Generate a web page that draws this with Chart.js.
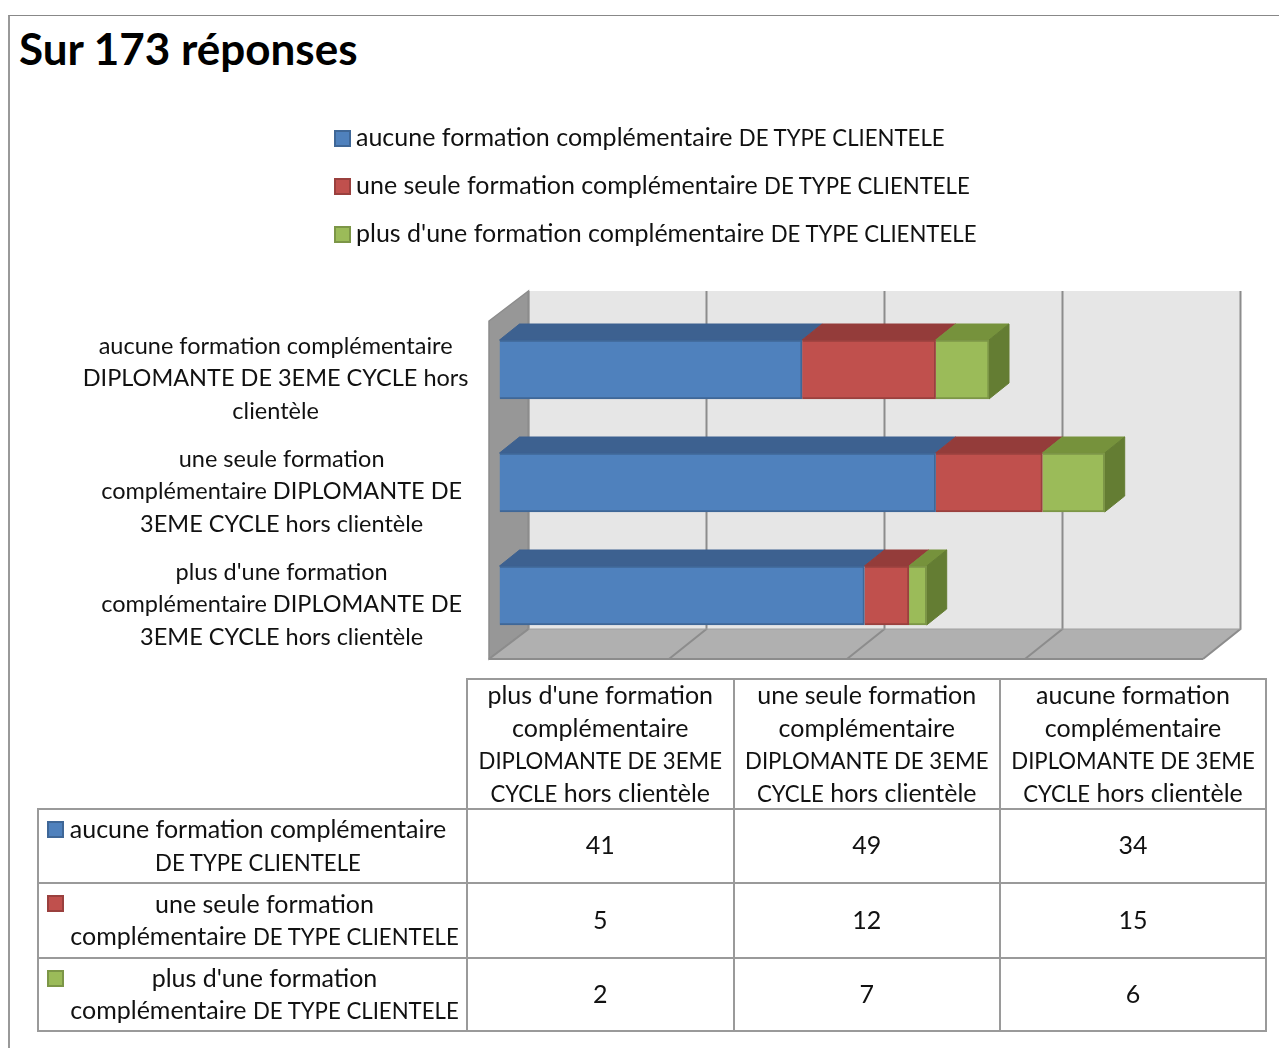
<!DOCTYPE html>
<html lang="fr"><head><meta charset="utf-8">
<script src="https://cdn.jsdelivr.net/npm/chart.js@4"></script>
<style>
html,body{margin:0;padding:0;background:#fff;width:1279px;height:1048px;overflow:hidden;font-family:Lato,sans-serif;color:#111}
#frame{position:absolute;left:8px;top:15px;width:1271px;height:1033px;border-top:1px solid #888;border-left:2px solid #999;box-sizing:border-box}
#title{position:absolute;left:19px;top:21px;font-size:44px;font-weight:700;line-height:54px;color:#000}
canvas{position:absolute;left:0;top:0}
.leg{position:absolute;left:334px;height:32px;line-height:32px;font-size:25px;white-space:nowrap}
.sw{position:absolute;box-sizing:border-box;width:17px;height:17px;border:2px solid}
.leg span.t{position:absolute;left:22px;top:0}
.cap{font-size:22.2px;line-height:0}
table{position:absolute;left:37px;top:678px;border-collapse:collapse;table-layout:fixed;width:1228px;font-size:25px;line-height:32.5px;white-space:nowrap}
td{border:2px solid #9a9a9a;text-align:center;padding:0;position:relative;vertical-align:middle}
td.blank{border:none;border-right:2px solid #9a9a9a;border-bottom:2px solid #9a9a9a}
td.s{padding-left:30px;padding-right:6px}
td.s.first{padding-right:19px}
td.s .sw{left:8px;top:11px}
td .h{margin-bottom:-2px;position:relative;top:-2px}
td .b{margin-top:-3px}
</style></head><body>
<div id="frame"></div>
<div id="title">Sur 173 réponses</div>
<canvas id="c" width="1279" height="1048"></canvas>
<div id="legend"></div>
<table id="tbl"></table>
<script>
const categories = [
  ["aucune formation complémentaire","DIPLOMANTE DE 3EME CYCLE hors","clientèle"],
  ["une seule formation","complémentaire DIPLOMANTE DE","3EME CYCLE hors clientèle"],
  ["plus d'une formation","complémentaire DIPLOMANTE DE","3EME CYCLE hors clientèle"]
];
const tableHeaders = [
  ["plus d'une formation","complémentaire","DIPLOMANTE DE 3EME","CYCLE hors clientèle"],
  ["une seule formation","complémentaire","DIPLOMANTE DE 3EME","CYCLE hors clientèle"],
  ["aucune formation","complémentaire","DIPLOMANTE DE 3EME","CYCLE hors clientèle"]
];
const seriesNames = [
  "aucune formation complémentaire DE TYPE CLIENTELE",
  "une seule formation complémentaire DE TYPE CLIENTELE",
  "plus d'une formation complémentaire DE TYPE CLIENTELE"
];
const seriesTableLines = [
  ["aucune formation complémentaire","DE TYPE CLIENTELE"],
  ["une seule formation","complémentaire DE TYPE CLIENTELE"],
  ["plus d'une formation","complémentaire DE TYPE CLIENTELE"]
];
const aucuneValues = [34,49,41];
const uneSeuleValues = [15,12,5];
const plusValues = [6,7,2];
const fronts = ["#4f81bd","#c0504d","#9bbb59"];
const edges = ["#3f6797","#9a403e","#7c9647"];
const tops = ["#3d6190","#943c3a","#76923c"];
const sides = ["#33537b","#7f3331","#647d33"];
const xMax = 80, xStep = 20;
const WALL_FRONT = -10.5, WALL_BACK = 29, WALL_RISE = 30, BAR_DX = 20, BAR_DY = 16, LABEL_SHIFT = 9;

const scene3d = {
  id:'scene3d',
  beforeDraw(chart){ chart.ctx.save(); chart.ctx.translate(0,LABEL_SHIFT); },
  beforeDatasetsDraw(chart){
    const {ctx, scales:{x}} = chart;
    ctx.restore();
    const backTop=291, backBottom=629, frontBottom=backBottom+WALL_RISE;
    const x0=x.getPixelForValue(0), xE=x.getPixelForValue(xMax);
    const poly=(pts,fill,stroke,lw)=>{ctx.beginPath();pts.forEach((p,i)=>i?ctx.lineTo(p[0],p[1]):ctx.moveTo(p[0],p[1]));ctx.closePath();
      if(fill){ctx.fillStyle=fill;ctx.fill();} if(stroke){ctx.strokeStyle=stroke;ctx.lineWidth=lw||1;ctx.stroke();}};
    ctx.save();
    poly([[x0+WALL_BACK,backTop],[xE+WALL_BACK,backTop],[xE+WALL_BACK,backBottom],[x0+WALL_BACK,backBottom]],"#e6e6e6");
    poly([[x0+WALL_FRONT,backTop+WALL_RISE],[x0+WALL_BACK,backTop],[x0+WALL_BACK,backBottom],[x0+WALL_FRONT,frontBottom]],"#979797","#8c8c8c",1.5);
    poly([[x0+WALL_FRONT,frontBottom],[x0+WALL_BACK,backBottom],[xE+WALL_BACK,backBottom],[xE+WALL_FRONT+2,frontBottom]],"#b0b0b0");
    ctx.strokeStyle="#8c8c8c";ctx.lineWidth=2;
    for(let v=0;v<=xMax;v+=xStep){
      const p=x.getPixelForValue(v);
      ctx.beginPath();ctx.moveTo(p+WALL_BACK,backTop);ctx.lineTo(p+WALL_BACK,backBottom);
      ctx.lineTo(p+WALL_FRONT+(v?2:0),frontBottom);ctx.stroke();
    }
    ctx.beginPath();ctx.moveTo(x0+WALL_FRONT,frontBottom);ctx.lineTo(xE+WALL_FRONT+2,frontBottom);ctx.stroke();
    ctx.lineWidth=1;
    ctx.beginPath();ctx.moveTo(x0+WALL_BACK,backBottom);ctx.lineTo(xE+WALL_BACK,backBottom);ctx.strokeStyle="#a0a0a0";ctx.stroke();
    const n=chart.data.datasets.length;
    for(let d=0;d<n;d++){
      chart.getDatasetMeta(d).data.forEach(el=>{
        const t=el.y-el.height/2,b=el.y+el.height/2;
        poly([[el.base,t],[el.x,t],[el.x+BAR_DX,t-BAR_DY],[el.base+BAR_DX,t-BAR_DY]],tops[d],tops[d],1);
        if(d===n-1) poly([[el.x,t],[el.x+BAR_DX,t-BAR_DY],[el.x+BAR_DX,b-BAR_DY],[el.x,b]],sides[d],sides[d],1);
      });
    }
    ctx.restore();
  }
};

const chart = new Chart(document.getElementById('c'),{
  type:'bar',
  data:{labels:categories,datasets:[
    {label:seriesNames[0],data:aucuneValues,backgroundColor:fronts[0],borderColor:edges[0],borderWidth:2,barThickness:59},
    {label:seriesNames[1],data:uneSeuleValues,backgroundColor:fronts[1],borderColor:edges[1],borderWidth:2,barThickness:59},
    {label:seriesNames[2],data:plusValues,backgroundColor:fronts[2],borderColor:edges[2],borderWidth:2,barThickness:59}
  ]},
  options:{
    indexAxis:'y',responsive:false,animation:false,
    layout:{padding:{top:313,bottom:396,left:0,right:67.5}},
    plugins:{legend:{display:false},tooltip:{enabled:false},title:{display:false}},
    scales:{
      x:{stacked:true,display:false,min:0,max:xMax,ticks:{stepSize:xStep}},
      y:{stacked:true,grid:{display:false,drawTicks:false},border:{display:false},
         afterFit(s){s.width=499.5;},
         ticks:{color:'#111',padding:31,crossAlign:'center',autoSkip:false,
           font:{family:'Lato',size:23.5,lineHeight:'32.5px'},
           callback(v,i){return categories[i].map(l=>i>0?'  '+l:l);}}}
    }
  },
  plugins:[scene3d]
});

const capWrap=s=>s.replace(/\b[0-9A-Z]{2,}(?: [0-9A-Z]{2,})*/g,m=>'<span class="cap">'+m+'</span>');
const legendEl=document.getElementById('legend');
seriesNames.forEach((name,i)=>{
  const d=document.createElement('div');d.className='leg';d.style.top=(120+48*i)+'px';
  d.innerHTML='<span class="sw" style="left:0;top:10px;background:'+fronts[i]+';border-color:'+edges[i]+'"></span><span class="t">'+capWrap(name)+'</span>';
  legendEl.appendChild(d);
});
const tbl=document.getElementById('tbl');
let html='<colgroup><col style="width:429px"><col style="width:266.5px"><col style="width:266.5px"><col style="width:266px"></colgroup>';
html+='<tr style="height:130px"><td class="blank"></td>'+tableHeaders.map(h=>'<td><div class="h">'+h.map(capWrap).join('<br>')+'</div></td>').join('')+'</tr>';
const rows=[aucuneValues,uneSeuleValues,plusValues];
const rowH=[74,75,73];
rows.forEach((vals,i)=>{
  const shown=[vals[2],vals[1],vals[0]];
  html+='<tr style="height:'+rowH[i]+'px"><td class="s'+(i===0?' first':'')+'"><span class="sw" style="background:'+fronts[i]+';border-color:'+edges[i]+'"></span><div class="b">'+seriesTableLines[i].map(capWrap).join('<br>')+'</div></td>'+shown.map(v=>'<td><div class="b">'+v+'</div></td>').join('')+'</tr>';
});
tbl.innerHTML=html;
</script>
</body></html>
